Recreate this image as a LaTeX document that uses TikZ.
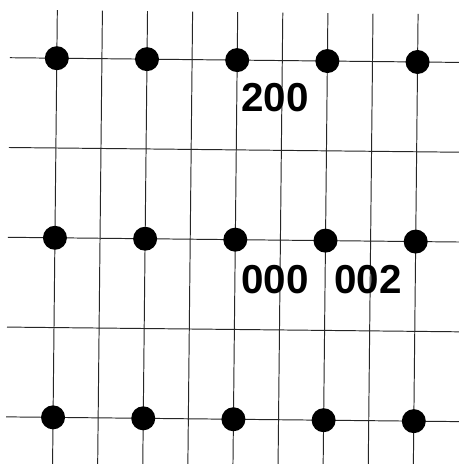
\documentclass[tikz,border=0pt]{standalone}
\usepackage{fontspec}
\setmainfont{Liberation Sans}
\usetikzlibrary{positioning,calc}

\begin{document}
\begin{tikzpicture}[x=0.02cm, y=-0.02cm,
  gline/.style={black!85, line width=0.55pt},
  latdot/.style={circle, fill=black, inner sep=0pt, minimum size=0.48cm},
  idx/.style={font=\fontsize{23}{23}\selectfont\bfseries, inner sep=0pt}]
\useasboundingbox[fill=white] (0,0) rectangle (458,464);
\begin{scope}[rotate around={-0.6:(229,232)}]
% grid lines
\foreach \i in {0,...,8}{\draw[gline] ({55+45.1*\i},12) -- ({55+45.1*\i},470);}
\foreach \j in {0,...,4}{\draw[gline] (8,{60+89.8*\j}) -- (465,{60+89.8*\j});}
% lattice points
\foreach \c in {0,...,4}{
  \foreach \r in {0,...,2}{
    \node[latdot] (p\c\r) at ({55+90.2*\c},{60+179.6*\r}) {};}}
\end{scope}
\node[idx] (l200) at (275,98) {200};
\node[idx] (l000) at (275,280) {000};
\node[idx] (l002) at (368,280) {002};
\end{tikzpicture}
\end{document}
